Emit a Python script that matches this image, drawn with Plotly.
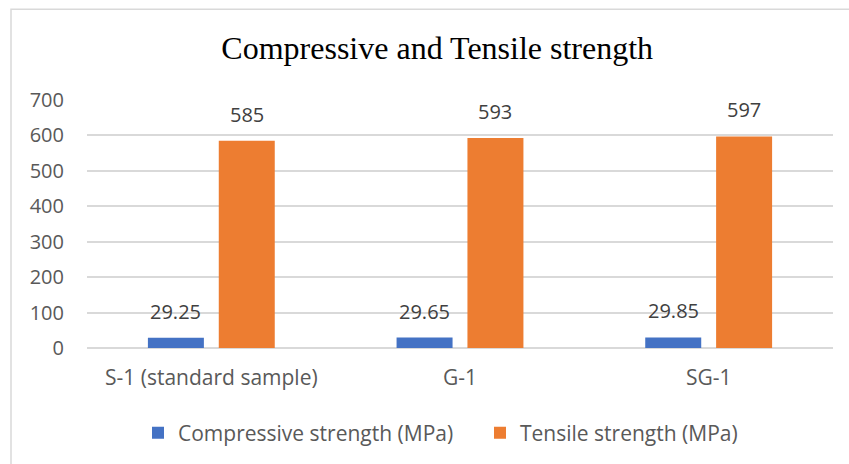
import plotly.graph_objects as go

# Sample groups and measured strengths
samples = ["S-1 (standard sample)", "G-1", "SG-1"]
compressive_mpa = [29.25, 29.65, 29.85]
tensile_mpa = [585, 593, 597]

series_names = ["Compressive strength (MPa)", "Tensile strength (MPa)"]
y_ticks = [0, 100, 200, 300, 400, 500, 600, 700]

BLUE = "#4472C4"
ORANGE = "#ED7D31"
GRID = "#D9D9D9"
TEXT = "#595959"
FONT = "Open Sans"

fig = go.Figure()
fig.add_trace(go.Bar(x=samples, y=compressive_mpa, name=series_names[0],
                     marker=dict(color=BLUE, line=dict(width=0))))
fig.add_trace(go.Bar(x=samples, y=tensile_mpa, name=series_names[1],
                     marker=dict(color=ORANGE, line=dict(width=0))))

# Value labels sitting above each bar
annotations = []
for vals, shift in ((compressive_mpa, -35.4), (tensile_mpa, 35.4)):
    for cat, v in zip(samples, vals):
        annotations.append(dict(
            x=cat, y=v, xref="x", yref="y", text=f"{v:g}", showarrow=False,
            xshift=shift, yshift=11, yanchor="bottom",
            font=dict(family=FONT, size=20, color="#404040")))

fig.update_layout(
    width=849, height=464,
    margin=dict(l=87, r=16, t=100, b=115),
    paper_bgcolor="white", plot_bgcolor="white",
    barmode="group", bargap=0.43, bargroupgap=0.21,
    title=dict(text="Compressive and Tensile strength",
               x=0.515, xref="container", xanchor="center",
               y=1 - 48 / 464, yref="container", yanchor="middle",
               font=dict(family="Liberation Serif", size=32, color="black")),
    xaxis=dict(showgrid=False, showline=False, zeroline=False,
               ticks="", ticklabelstandoff=15,
               tickfont=dict(family=FONT, size=21, color=TEXT)),
    yaxis=dict(range=[0, 700], tickvals=y_ticks, showline=False,
               gridcolor=GRID, gridwidth=1.5,
               zeroline=True, zerolinecolor=GRID, zerolinewidth=1.5,
               ticks="", ticklabelstandoff=22,
               tickfont=dict(family=FONT, size=20, color=TEXT)),
    legend=dict(orientation="h", x=(138 - 87) / 746, xanchor="left",
                y=(349 - 433) / 249, yanchor="middle",
                entrywidth=297, itemwidth=30,
                font=dict(family=FONT, size=21, color=TEXT)),
    annotations=annotations,
    shapes=[dict(type="rect", xref="paper", yref="paper",
                 x0=(11 - 87) / 746, x1=1.05,
                 y0=-0.5, y1=(349 - 9) / 249,
                 line=dict(color=GRID, width=1.5), fillcolor="rgba(0,0,0,0)",
                 layer="below")],
)

fig.write_html("out.html")
